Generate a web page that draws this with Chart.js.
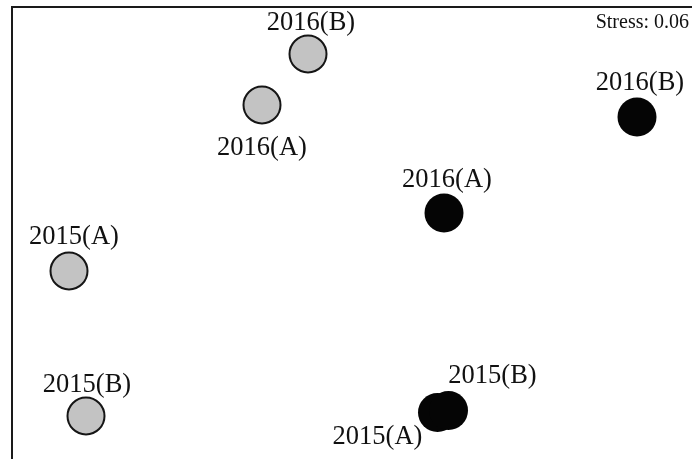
<!DOCTYPE html>
<html>
<head>
<meta charset="utf-8">
<style>
  html, body { margin: 0; padding: 0; background: #fff; }
  #wrap { width: 692px; height: 459px; position: relative; }
</style>
<script src="https://cdn.jsdelivr.net/npm/chart.js@4/dist/chart.umd.min.js"></script>
</head>
<body>
<div id="wrap"><canvas id="c"></canvas></div>
<script>
// NMDS coordinates (arbitrary units)
const labels = ["2015(A)", "2015(B)", "2016(A)", "2016(B)"];
const groupGrayX = [-1.415, -1.33, -0.45, -0.22];
const groupGrayY = [-0.19, -0.915, 0.64, 0.895];
const groupBlackX = [0.4275, 0.4825, 0.46, 1.425];
const groupBlackY = [-0.8975, -0.8875, 0.10, 0.58];
const stressText = "Stress: 0.06";

// label offsets (pixels) relative to each point
const grayLabelOffsets = [[5, -34], [1, -31], [0, 43], [3, -31]];
const blackLabelOffsets = [[-60, 25], [44, -34], [3, -33], [3, -34]];

const toPts = (xs, ys) => xs.map((x, i) => ({ x: x, y: ys[i] }));

const framePlugin = {
  id: 'frame',
  afterDraw(chart) {
    const ctx = chart.ctx, a = chart.chartArea;
    ctx.save();
    ctx.strokeStyle = '#1a1a1a';
    ctx.lineWidth = 2;
    ctx.beginPath();
    ctx.moveTo(a.left, a.bottom);
    ctx.lineTo(a.left, a.top);
    ctx.lineTo(a.right, a.top);
    ctx.stroke();
    // stress text
    ctx.fillStyle = '#111';
    ctx.font = '20px "Liberation Serif", "Times New Roman", serif';
    ctx.textAlign = 'right';
    ctx.textBaseline = 'middle';
    ctx.fillText(stressText, a.right - 3, a.top + 16);
    // point labels
    ctx.font = '26.5px "Liberation Serif", "Times New Roman", serif';
    ctx.textAlign = 'center';
    ctx.textBaseline = 'middle';
    chart.data.datasets.forEach((ds, di) => {
      const meta = chart.getDatasetMeta(di);
      const offs = ds.labelOffsets;
      meta.data.forEach((el, i) => {
        ctx.fillText(labels[i], el.x + offs[i][0], el.y + offs[i][1]);
      });
    });
    ctx.restore();
  }
};

new Chart(document.getElementById('c'), {
  type: 'scatter',
  data: {
    datasets: [
      {
        label: 'Gray',
        data: toPts(groupGrayX, groupGrayY),
        labelOffsets: grayLabelOffsets,
        pointRadius: 18.5,
        pointBackgroundColor: '#c3c3c3',
        pointBorderColor: '#151515',
        pointBorderWidth: 2
      },
      {
        label: 'Black',
        data: toPts(groupBlackX, groupBlackY),
        labelOffsets: blackLabelOffsets,
        pointRadius: 19.5,
        pointBackgroundColor: '#050505',
        pointBorderColor: '#050505',
        pointBorderWidth: 0
      }
    ]
  },
  options: {
    responsive: true,
    maintainAspectRatio: false,
    animation: false,
    layout: { autoPadding: false, padding: { left: 12, top: 7, right: 0, bottom: 0 } },
    plugins: { legend: { display: false }, tooltip: { enabled: false } },
    events: [],
    scales: {
      x: { type: 'linear', display: false, min: -1.7, max: 1.7 },
      y: { type: 'linear', display: false, min: -1.13, max: 1.13 }
    }
  },
  plugins: [framePlugin]
});
</script>
</body>
</html>
